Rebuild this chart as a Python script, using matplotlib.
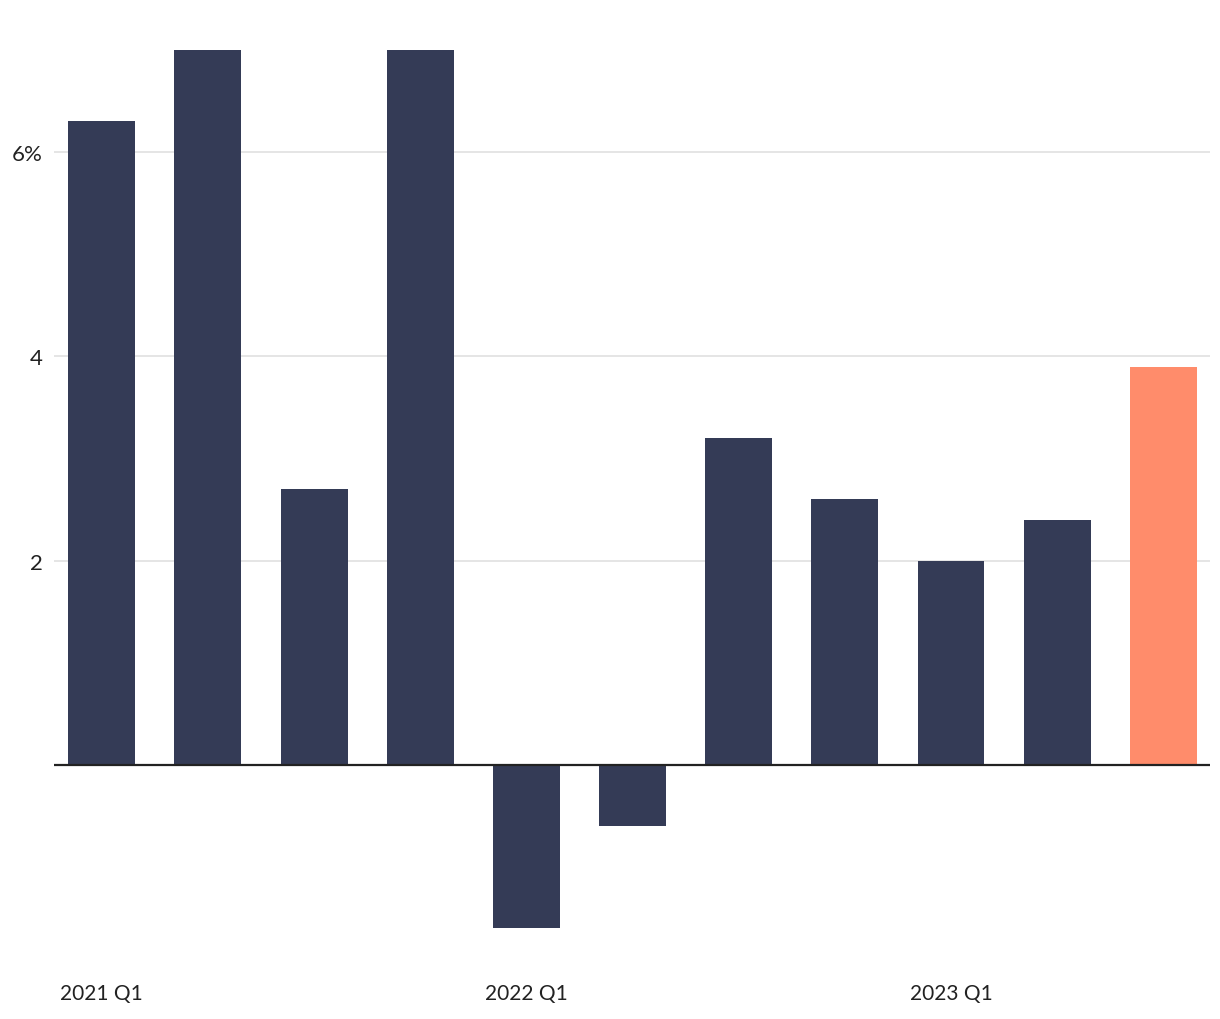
import matplotlib.pyplot as plt
import numpy as np

plt.rcParams['font.family'] = ['Lato', 'DejaVu Sans']

quarters = ["2021 Q1", "2021 Q2", "2021 Q3", "2021 Q4",
            "2022 Q1", "2022 Q2", "2022 Q3", "2022 Q4",
            "2023 Q1", "2023 Q2", "2023 Q3"]
growth = [6.3, 7.0, 2.7, 7.0, -1.6, -0.6, 3.2, 2.6, 2.0, 2.4, 3.9]
highlight = "2023 Q3"
tick_labels = ["2021 Q1", "2022 Q1", "2023 Q1"]
y_ticks = [2, 4, 6]
y_tick_labels = ["2", "4", "6%"]

NAVY = "#343b56"
ORANGE = "#ff8c6b"

fig = plt.figure(figsize=(12.2, 10.2), dpi=100)
ax = fig.add_axes([54 / 1220, 1 - 960 / 1020, (1210 - 54) / 1220, (960 - 51) / 1020])

x = np.arange(len(quarters))
colors = [ORANGE if q == highlight else NAVY for q in quarters]
ax.bar(x, growth, width=0.63, color=colors, zorder=3)

ax.set_xlim(-0.45, 10.44)
ax.set_ylim(-1.9, 7.0)

ax.set_yticks(y_ticks)
ax.set_yticklabels(y_tick_labels)
ax.yaxis.grid(True, color="#e3e3e3", linewidth=1.3, zorder=0)
ax.axhline(0, color="#222222", linewidth=1.6, zorder=4)

ax.set_xticks([quarters.index(t) for t in tick_labels])
ax.set_xticklabels(tick_labels)

ax.tick_params(axis='both', length=0, colors="#222222")
ax.tick_params(axis='y', pad=8, labelsize=16)
ax.tick_params(axis='x', pad=17, labelsize=15)
for s in ax.spines.values():
    s.set_visible(False)

fig.savefig("out.png", dpi=100)
